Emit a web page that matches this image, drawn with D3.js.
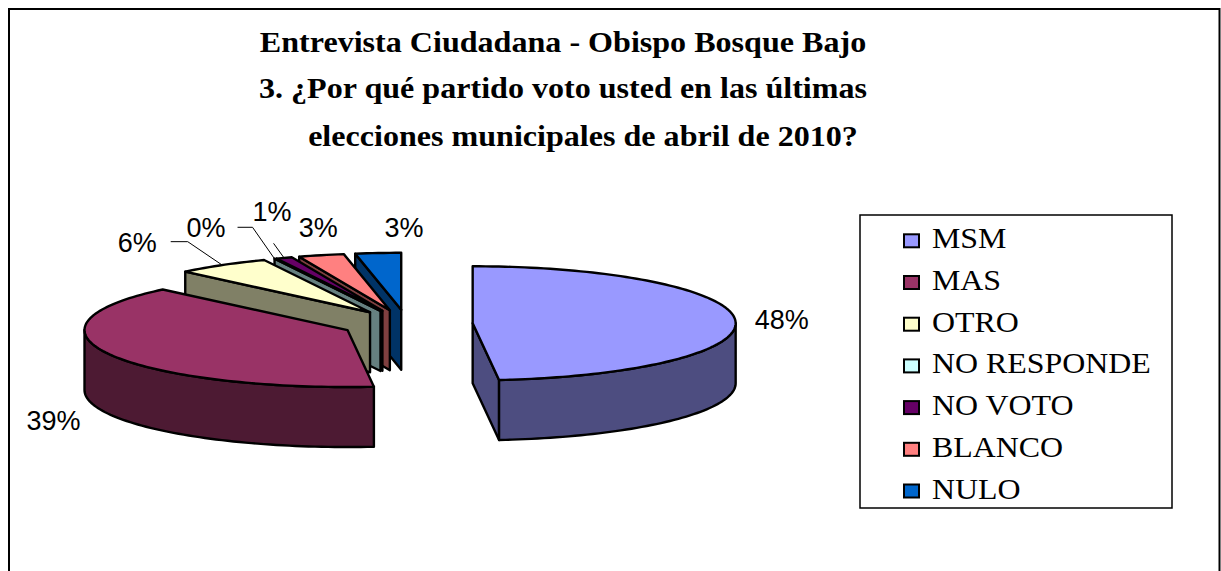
<!DOCTYPE html>
<html>
<head>
<meta charset="utf-8">
<script src="https://cdnjs.cloudflare.com/ajax/libs/d3/7.8.5/d3.min.js"></script>
<style>
body { margin: 0; background: #fff; }
</style>
</head>
<body>
<script>
// canvas
var width = 1221
var height = 571

// data (shares, labels as printed)
const categories = ["MSM", "MAS", "OTRO", "NO RESPONDE", "NO VOTO", "BLANCO", "NULO"];
const values = [48.4, 39.2, 5.8, 0, 1, 2.8, 2.8];
const valueLabels = ["48%", "39%", "6%", "0%", "1%", "3%", "3%"];
const colors = ["#9999FF", "#993366", "#FFFFCC", "#CCFFFF", "#660066", "#FF8080", "#0066CC"];
const titleLines = [
  "Entrevista Ciudadana - Obispo Bosque Bajo",
  "3. ¿Por qué partido voto usted en las últimas",
  "elecciones municipales de abril de 2010?"
];

// pie layout (ellipse seen from the front, slices pulled out)
const cx = 407, cy = 324, rx = 263, ry = 57, depth = 60, explode = 0.25;

// label nudges from the rim point at the slice middle (manual placement like in the sheet)
const labelNudge = {
  "MSM": [46.5, 8.5], "MAS": [-56, 75.6], "OTRO": [-85, -13.4],
  "NO RESPONDE": [-68.5, -21.5], "NO VOTO": [-12, -36.6], "BLANCO": [-3, -18.6], "NULO": [26, -16]
};
// leader lines, points relative to the label anchor, ending at the rim
const leaders = {
  "OTRO": [[33.5, -10], [50.5, -10]],
  "NO RESPONDE": [[31.5, -10], [46.5, -10]],
  "NO VOTO": [[1.5, 22]]
};

const svg = d3.select("body").append("svg")
  .attr("width", width).attr("height", height)

// outer frame
svg.append("rect")
  .attr("x", 9).attr("y", 9).attr("width", 1210.5).attr("height", 620)
  .attr("fill", "#fff").attr("stroke", "#000").attr("stroke-width", 2)

// title
var titleY = [52, 98, 146]
var titleX = [563, 563, 583]
titleLines.forEach(function(t, i) {
  svg.append("text")
    .attr("transform", "translate(" + titleX[i] + "," + titleY[i] + ") scale(1.07,1)")
    .attr("text-anchor", "middle")
    .style("font-family", "'Liberation Serif', 'Times New Roman', serif")
    .style("font-weight", "bold")
    .style("font-size", "30px")
    .text(t)
})

// scales map unit circle to the ellipse
var xs = d3.scaleLinear().domain([-1, 1]).range([cx - rx, cx + rx])
var ys = d3.scaleLinear().domain([-1, 1]).range([cy + ry, cy - ry])

var pie = d3.pie().sort(null).value(d => d.value)
var data = categories.map((c, i) => ({ name: c, value: values[i], label: valueLabels[i], color: colors[i] }))
var arcs = pie(data)

// point on slice: angle a (clockwise from top), radius r (0..1), z = 0 top / depth bottom
function pt(s, a, r, z) {
  var mid = (s.startAngle + s.endAngle) / 2
  var ox = explode * Math.sin(mid), oy = explode * Math.cos(mid)
  return [xs(ox + r * Math.sin(a)), ys(oy + r * Math.cos(a)) + z]
}
function arcPts(s, a0, a1, z) {
  var n = Math.max(2, Math.ceil(Math.abs(a1 - a0) * 40))
  return d3.range(n + 1).map(k => pt(s, a0 + (a1 - a0) * k / n, 1, z))
}
function half(c) {
  var r = d3.rgb(c)
  return d3.rgb(r.r / 2, r.g / 2, r.b / 2).formatHex()
}

var line = d3.line()
var pieG = svg.append("g")
  .attr("stroke", "#000").attr("stroke-width", 2.4).attr("stroke-linejoin", "round")

// back slices first
var order = arcs.slice().sort((a, b) =>
  Math.cos((b.startAngle + b.endAngle) / 2) - Math.cos((a.startAngle + a.endAngle) / 2))

order.forEach(function(s) {
  var g = pieG.append("g")
  var side = half(s.data.color)
  var a0 = s.startAngle, a1 = s.endAngle
  // cut face at start angle
  if (Math.sin(a0) < -1e-6) {
    g.append("path").attr("fill", side)
      .attr("d", line([pt(s, a0, 0, 0), pt(s, a0, 1, 0), pt(s, a0, 1, depth), pt(s, a0, 0, depth)]) + "Z")
  }
  // cut face at end angle
  if (Math.sin(a1) > 1e-6) {
    g.append("path").attr("fill", side)
      .attr("d", line([pt(s, a1, 0, 0), pt(s, a1, 1, 0), pt(s, a1, 1, depth), pt(s, a1, 0, depth)]) + "Z")
  }
  // outer rim, front half only
  var r0 = Math.max(a0, Math.PI / 2), r1 = Math.min(a1, 3 * Math.PI / 2)
  if (r1 > r0) {
    var top = arcPts(s, r0, r1, 0), bot = arcPts(s, r1, r0, depth)
    g.append("path").attr("fill", side).attr("d", line(top.concat(bot)) + "Z")
  }
  // top face
  var tp = [pt(s, a0, 0, 0)].concat(arcPts(s, a0, a1, 0))
  g.append("path").attr("fill", s.data.color).attr("d", line(tp) + "Z")
})

// value labels
arcs.forEach(function(s) {
  var mid = (s.startAngle + s.endAngle) / 2
  var rim = pt(s, mid, 1, 0)
  var nd = labelNudge[s.data.name]
  var lx = rim[0] + nd[0], ly = rim[1] + nd[1]
  var ld = leaders[s.data.name]
  if (ld) {
    var pts = ld.map(p => [lx + p[0], ly + p[1]]).concat([rim])
    svg.append("path").attr("d", line(pts))
      .attr("fill", "none").attr("stroke", "#000").attr("stroke-width", 1)
  }
  svg.append("text")
    .attr("x", lx).attr("y", ly)
    .attr("text-anchor", "middle")
    .style("font-family", "'Liberation Sans', Arial, sans-serif")
    .style("font-size", "27px")
    .text(s.data.label)
})

// legend
var lg = svg.append("g")
lg.append("rect")
  .attr("x", 860).attr("y", 215).attr("width", 312).attr("height", 293)
  .attr("fill", "#fff").attr("stroke", "#000").attr("stroke-width", 1.5)

var item = lg.selectAll("g.item").data(data).enter().append("g")
  .attr("class", "item")
  .attr("transform", (d, i) => "translate(0," + (248.3 + i * 41.7) + ")")

item.append("rect")
  .attr("x", 904).attr("y", -14).attr("width", 15).attr("height", 13)
  .attr("fill", d => d.color).attr("stroke", "#000").attr("stroke-width", 2)

item.append("text")
  .attr("transform", "translate(932,0) scale(1.1,1)")
  .style("font-family", "'Liberation Serif', 'Times New Roman', serif")
  .style("font-size", "29px")
  .text(d => d.name)
</script>
</body>
</html>
